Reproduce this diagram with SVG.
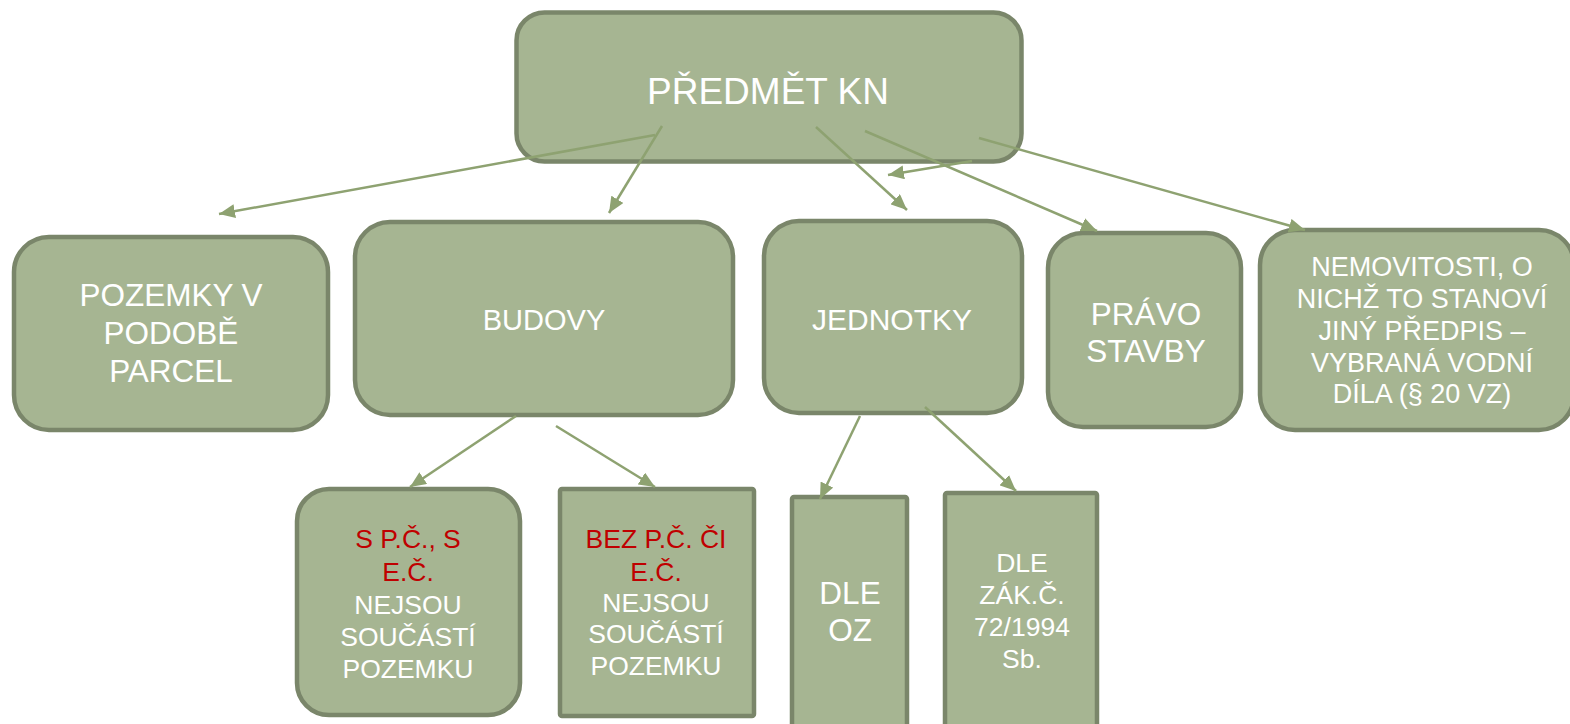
<svg xmlns="http://www.w3.org/2000/svg" width="1570" height="724" viewBox="0 0 1570 724">
<style>
.box{fill:#a6b592;stroke:#7a866a;stroke-width:4.5}
.t{font-family:"Liberation Sans",Arial,sans-serif;fill:#ffffff;text-anchor:middle}
.r{fill:#c00000}
.c{stroke:#8ea271;stroke-width:2.5;fill:none;marker-end:url(#ah)}
</style>
<defs>
<marker id="ah" markerUnits="userSpaceOnUse" markerWidth="16" markerHeight="14" refX="16" refY="7" orient="auto">
<path d="M0,0 L16,7 L0,14 z" fill="#8ea271"/>
</marker>
</defs>
<rect width="1570" height="724" fill="#ffffff"/>
<g id="n-predmet">
<rect class="box" x="516.5" y="12.5" width="505" height="149" rx="28"/>
<text class="t" x="768" y="104" font-size="37">PŘEDMĚT KN</text>
</g>
<g id="n-pozemky">
<rect class="box" x="14" y="237" width="314" height="193" rx="35"/>
<text class="t" font-size="31.5"><tspan x="171" y="306">POZEMKY V</tspan><tspan x="171" y="344">PODOBĚ</tspan><tspan x="171" y="382">PARCEL</tspan></text>
</g>
<g id="n-budovy">
<rect class="box" x="355" y="222" width="378" height="193" rx="35"/>
<text class="t" x="544" y="330" font-size="29">BUDOVY</text>
</g>
<g id="n-jednotky">
<rect class="box" x="764" y="221" width="258" height="192" rx="35"/>
<text class="t" x="892" y="330" font-size="30">JEDNOTKY</text>
</g>
<g id="n-pravo">
<rect class="box" x="1048" y="233" width="193" height="194" rx="35"/>
<text class="t" font-size="31.5"><tspan x="1146" y="325">PRÁVO</tspan><tspan x="1146" y="362">STAVBY</tspan></text>
</g>
<g id="n-nemovitosti">
<rect class="box" x="1260" y="230" width="314" height="200" rx="35"/>
<text class="t" font-size="27"><tspan x="1422" y="276">NEMOVITOSTI, O</tspan><tspan x="1422" y="308">NICHŽ TO STANOVÍ</tspan><tspan x="1422" y="340">JINÝ PŘEDPIS –</tspan><tspan x="1422" y="372">VYBRANÁ VODNÍ</tspan><tspan x="1422" y="403">DÍLA (§ 20 VZ)</tspan></text>
</g>
<g id="n-spc">
<rect class="box" x="297" y="489" width="223" height="226" rx="32"/>
<text class="t" font-size="26.5"><tspan class="r" x="408" y="548">S P.Č., S</tspan><tspan class="r" x="408" y="581">E.Č.</tspan><tspan x="408" y="614">NEJSOU</tspan><tspan x="408" y="646">SOUČÁSTÍ</tspan><tspan x="408" y="678">POZEMKU</tspan></text>
</g>
<g id="n-bez">
<rect class="box" x="560" y="489" width="194" height="227" rx="2"/>
<text class="t" font-size="26.5"><tspan class="r" x="656" y="548">BEZ P.Č. ČI</tspan><tspan class="r" x="656" y="581">E.Č.</tspan><tspan x="656" y="612">NEJSOU</tspan><tspan x="656" y="643">SOUČÁSTÍ</tspan><tspan x="656" y="675">POZEMKU</tspan></text>
</g>
<g id="n-dleoz">
<rect class="box" x="792" y="497" width="115" height="240" rx="2"/>
<text class="t" font-size="31.5"><tspan x="850" y="604">DLE</tspan><tspan x="850" y="641">OZ</tspan></text>
</g>
<g id="n-dlezak">
<rect class="box" x="945" y="493" width="152" height="240" rx="2"/>
<text class="t" font-size="26.5"><tspan x="1022" y="572">DLE</tspan><tspan x="1022" y="604">ZÁK.Č.</tspan><tspan x="1022" y="636">72/1994</tspan><tspan x="1022" y="668">Sb.</tspan></text>
</g>
<g id="connectors">
<line class="c" x1="655" y1="135" x2="219" y2="214"/>
<line class="c" x1="662" y1="126" x2="609" y2="213"/>
<line class="c" x1="816" y1="127" x2="907" y2="210"/>
<line class="c" x1="865" y1="131" x2="1097" y2="231"/>
<line class="c" x1="979" y1="138" x2="1305" y2="230"/>
<line class="c" x1="972" y1="161" x2="888" y2="175"/>
<line class="c" x1="516" y1="416" x2="410" y2="487"/>
<line class="c" x1="556" y1="426" x2="655" y2="487"/>
<line class="c" x1="860" y1="416" x2="820" y2="499"/>
<line class="c" x1="925" y1="407" x2="1016" y2="491"/>
</g>
</svg>
